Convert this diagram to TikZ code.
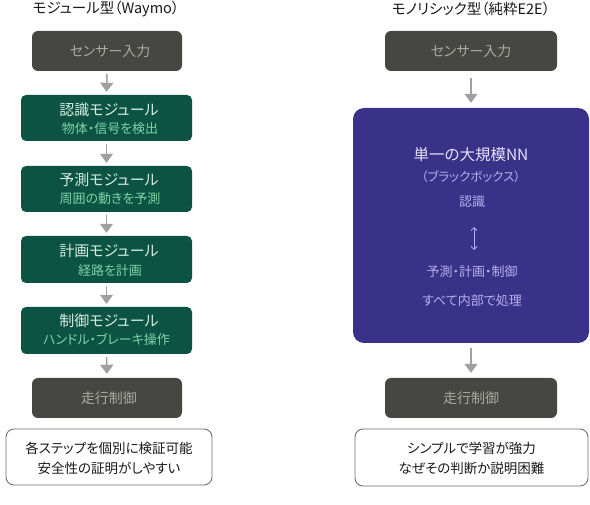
\documentclass[tikz,border=0pt]{standalone}
\usepackage{fontspec}
\setmainfont{Noto Sans CJK JP}[RawFeature=+palt]
\usetikzlibrary{arrows.meta}
\definecolor{boxgray}{HTML}{464642}
\definecolor{graytext}{HTML}{A9A9A4}
\definecolor{modgreen}{HTML}{0D5343}
\definecolor{greentext}{HTML}{D5EDE1}
\definecolor{greensub}{HTML}{7DD3A8}
\definecolor{nnpurple}{HTML}{3A3188}
\definecolor{nntitle}{HTML}{E6E2FF}
\definecolor{nntext}{HTML}{B7AFEE}
\definecolor{arrowgray}{HTML}{A0A0A0}
\definecolor{noteborder}{HTML}{707070}
\tikzset{
  grayblock/.style={rectangle, rounded corners=6pt, fill=boxgray, draw=none, minimum height=40pt, inner sep=0pt},
  greenblock/.style={rectangle, rounded corners=5pt, fill=modgreen, draw=none, minimum width=171pt, minimum height=46pt, inner sep=0pt},
  noteblock/.style={rectangle, rounded corners=8pt, fill=white, draw=noteborder, line width=0.9pt, inner sep=0pt},
  graylabel/.style={text=graytext, font=\fontsize{14}{16}\selectfont, inner sep=0pt},
  mainlabel/.style={text=greentext, font=\fontsize{15}{17}\selectfont, inner sep=0pt},
  sublabel/.style={text=greensub, font=\fontsize{13}{15}\selectfont, inner sep=0pt},
  titlelabel/.style={text=black!90, font=\fontsize{14.5}{17}\selectfont, inner sep=0pt},
  notelabel/.style={text=black!90, font=\fontsize{13.5}{16}\selectfont, inner sep=0pt},
  nnlabel/.style={text=nntext, font=\fontsize{13}{15}\selectfont, inner sep=0pt},
  flowarrow/.style={draw=arrowgray, line width=1.6pt, -{Triangle[width=13pt,length=9pt]}},
}
\begin{document}
\begin{tikzpicture}[x=1pt,y=-1pt]
\useasboundingbox[fill=white] (0,0) rectangle (590,505);
% titles
\node[titlelabel] (titleL) at (106,9) {モジュール型（Waymo）};
\node[titlelabel] (titleR) at (471,9) {モノリシック型（純粋E2E）};
% left column
\node[grayblock, minimum width=150pt] (sensorL) at (107,51) {};
\node[graylabel] (sensorLt) at (110,51) {センサー入力};
\node[greenblock] (recog) at (106.5,118) {};
\node[mainlabel] (recogA) at (109,110) {認識モジュール};
\node[sublabel] (recogB) at (110,128.5) {物体・信号を検出};
\node[greenblock] (pred) at (106.5,189) {};
\node[mainlabel] (predA) at (109,180) {予測モジュール};
\node[sublabel] (predB) at (110,199) {周囲の動きを予測};
\node[greenblock, minimum height=47pt] (plan) at (106.5,259.5) {};
\node[mainlabel] (planA) at (109,251) {計画モジュール};
\node[sublabel] (planB) at (110,270.5) {経路を計画};
\node[greenblock, minimum height=47pt] (ctrl) at (106.5,330.5) {};
\node[mainlabel] (ctrlA) at (109,321) {制御モジュール};
\node[sublabel] (ctrlB) at (106.5,339.5) {ハンドル・ブレーキ操作};
\node[grayblock, minimum width=150pt] (driveL) at (107,398) {};
\node[graylabel] (driveLt) at (109,398) {走行制御};
\node[noteblock, minimum width=206pt, minimum height=56pt] (noteL) at (109,457) {};
\node[notelabel] (noteLa) at (109,448) {各ステップを個別に検証可能};
\node[notelabel] (noteLb) at (109,468) {安全性の証明がしやすい};
\draw[flowarrow, shorten <=3pt, shorten >=3pt] (sensorL.south) -- (recog.north);
\draw[flowarrow, shorten <=3pt, shorten >=3pt] (recog.south) -- (pred.north);
\draw[flowarrow, shorten <=3pt, shorten >=3pt] (pred.south) -- (plan.north);
\draw[flowarrow, shorten <=3pt, shorten >=3pt] (plan.south) -- (ctrl.north);
\draw[flowarrow, shorten <=3pt, shorten >=4pt] (ctrl.south) -- (driveL.north);
% right column
\node[grayblock, minimum width=172pt] (sensorR) at (471,51) {};
\node[graylabel] (sensorRt) at (471,51) {センサー入力};
\node[rectangle, rounded corners=11pt, fill=nnpurple, minimum width=236pt, minimum height=235pt, inner sep=0pt] (nn) at (471,225.5) {};
\node[text=nntitle, font=\fontsize{15.5}{18}\selectfont, inner sep=0pt] (nnA) at (471,155) {単一の大規模NN};
\node[nnlabel, font=\fontsize{12.5}{14}\selectfont] (nnB) at (471,177) {（ブラックボックス）};
\node[nnlabel] (nnC) at (472,202) {認識};
\coordinate (dtop) at (474,227);
\coordinate (dbot) at (474,250);
\draw[draw=nntext, line width=0.8pt, {Straight Barb[length=3pt,width=6pt]}-{Straight Barb[length=3pt,width=6pt]}] (dtop) -- (dbot);
\node[nnlabel] (nnD) at (472,272) {予測・計画・制御};
\node[nnlabel] (nnE) at (472,301) {すべて内部で処理};
\node[grayblock, minimum width=172pt] (driveR) at (471,398) {};
\node[graylabel] (driveRt) at (471,398) {走行制御};
\node[noteblock, minimum width=233pt, minimum height=57pt] (noteR) at (471.5,457.5) {};
\node[notelabel] (noteRa) at (471.5,448) {シンプルで学習が強力};
\node[notelabel] (noteRb) at (471.5,468) {なぜその判断か説明困難};
\draw[flowarrow, shorten <=7pt, shorten >=5pt] (sensorR.south) -- (nn.north);
\draw[flowarrow, shorten <=5pt, shorten >=5pt] (nn.south) -- (driveR.north);
\end{tikzpicture}
\end{document}
